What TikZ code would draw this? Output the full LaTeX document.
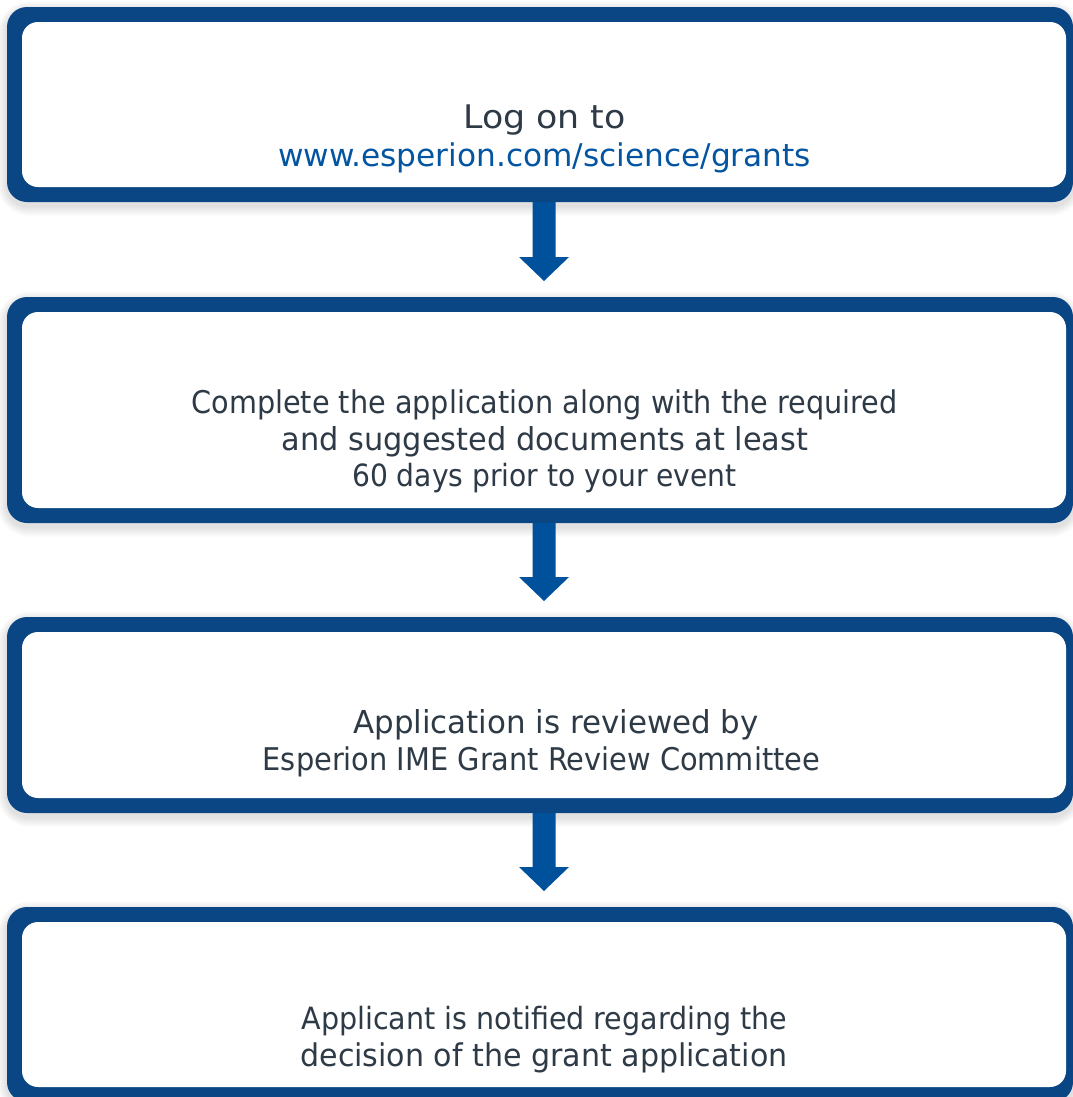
\documentclass[tikz,border=0pt]{standalone}
\usepackage{fontspec}
\usepackage{graphicx}
\setmainfont{DejaVu Sans Condensed}
\usetikzlibrary{calc}
\definecolor{frameblue}{HTML}{0A4683}
\definecolor{arrowblue}{HTML}{00519C}
\definecolor{txtgray}{HTML}{2E3A46}
\definecolor{urlblue}{HTML}{0355A2}
\tikzset{
  framebox/.style={fill=frameblue, rounded corners=15},
  innerbox/.style={fill=white, rounded corners=12},
  line/.style={anchor=base, inner sep=0pt, text=txtgray, font=\fontsize{23}{27}\selectfont},
  urlline/.style={line, text=urlblue},
  arrowfill/.style={fill=arrowblue},
}
\newcommand{\sx}[3]{\scalebox{#1}[#2]{#3}}
\newcommand{\softshadow}[4]{%
  \foreach \i in {1,...,10}{
    \fill[black, opacity=0.012, rounded corners=15+\i]
      ($(#1,#2)+(-\i,-\i+4)$) rectangle ($(#3,#4)+(\i,\i+4)$);
  }%
}
\newcommand{\flowbox}[5]{% name, x1,y1,x2,y2 outer
  \softshadow{#2}{#3}{#4}{#5}
  \fill[framebox] (#2,#3) rectangle (#4,#5);
  \fill[innerbox] ($(#2,#3)+(15,15)$) rectangle ($(#4,#5)+(-7,-15)$);
  \coordinate (#1n) at (544,#3);
  \coordinate (#1s) at (544,#5);
}
\newcommand{\blockarrow}[2]{% from coord to coord
  \fill[arrowfill] ($(#1)+(-11.5,0)$) -- ($(#2)+(-11.5,-40)$) -- ($(#2)+(-25,-40)$)
     -- ($(#2)+(0,-16)$) -- ($(#2)+(25,-40)$) -- ($(#2)+(11.5,-40)$) -- ($(#1)+(11.5,0)$) -- cycle;
}
\begin{document}
\begin{tikzpicture}[x=0.75pt,y=-0.75pt]
\useasboundingbox (0,0) rectangle (1072,1097);
\fill[white] (0,0) rectangle (1072,1097);
\flowbox{b1}{7}{7}{1073}{202}
\flowbox{b2}{7}{297}{1073}{523}
\flowbox{b3}{7}{617}{1073}{813}
\flowbox{b4}{7}{907}{1073}{1102}
\blockarrow{b1s}{b2n}
\blockarrow{b2s}{b3n}
\blockarrow{b3s}{b4n}
\node[line] (t1a) at (544.5,128) {\sx{1.26}{1.06}{Log on to}};
\node[urlline] (t1b) at (544.5,166) {\sx{1.13}{1.02}{www.esperion.com/science/grants}};
\node[line] (t2a) at (544.5,413) {\sx{1.04}{1.02}{Complete the application along with the required}};
\node[line] (t2b) at (545,450) {\sx{1.10}{1.03}{and suggested documents at least}};
\node[line] (t2c) at (544.5,486) {\sx{1.02}{1}{60 days prior to your event}};
\node[line] (t3a) at (556,733) {\sx{1.12}{1.03}{Application is reviewed by}};
\node[line] (t3b) at (541.5,770) {\sx{1.045}{1.02}{Esperion IME Grant Review Committee}};
\node[line] (t4a) at (544.5,1029) {\sx{1.034}{1}{Applicant is notified regarding the}};
\node[line] (t4b) at (544,1066) {\sx{1.09}{1.02}{decision of the grant application}};
\end{tikzpicture}
\end{document}
